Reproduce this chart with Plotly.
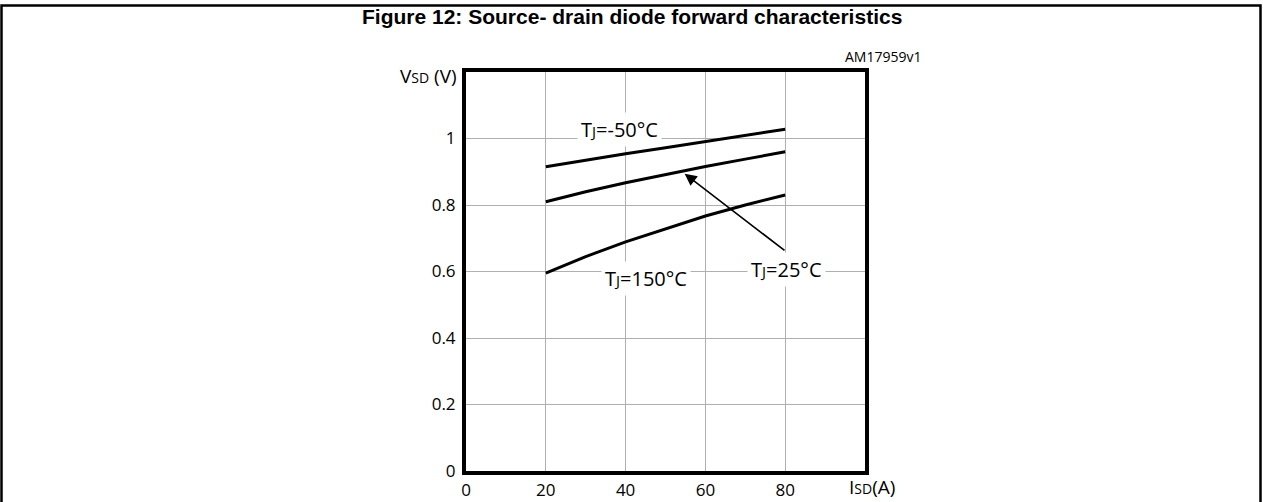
import plotly.graph_objects as go

# ---- data ----
ISD = [20, 30, 40, 50, 60, 70, 80]
VSD_m50 = [0.915, 0.935, 0.954, 0.972, 0.990, 1.010, 1.028]
VSD_25 = [0.810, 0.840, 0.867, 0.892, 0.916, 0.938, 0.960]
VSD_150 = [0.595, 0.645, 0.689, 0.728, 0.767, 0.800, 0.830]

x_ticks = [0, 20, 40, 60, 80]
y_ticks = [0, 0.2, 0.4, 0.6, 0.8, 1.0]
y_tick_text = ["0", "0.2", "0.4", "0.6", "0.8", "1"]

TITLE = "Figure 12: Source- drain diode forward characteristics"
CODE = "AM17959v1"

W, H = 1263, 502
L, R, T, B = 466, 865, 72, 471  # plot area in pixels
pw, ph = R - L, B - T

def px(xp):
    return (xp - L) / pw

def py(yp):
    return (B - yp) / ph

FONT = "Open Sans"
sm = "<span style='font-size:15px'>{}</span>"

fig = go.Figure()
for ys in (VSD_m50, VSD_25, VSD_150):
    fig.add_trace(go.Scatter(x=ISD, y=ys, mode="lines",
                             line=dict(color="black", width=3),
                             showlegend=False, hoverinfo="skip"))

ann = []
# curve labels with white boxes
for txt, x, y in [("T" + sm.format("J") + "=-50°C", 38.5, 1.027),
                  ("T" + sm.format("J") + "=150°C", 45.2, 0.58),
                  ("T" + sm.format("J") + "=25°C", 80.4, 0.605)]:
    ann.append(dict(x=x, y=y, xref="x", yref="y", text=txt, showarrow=False,
                    bgcolor="white", borderpad=3,
                    font=dict(family=FONT, size=20, color="black")))
# arrow
ann.append(dict(x=54.8, y=0.894, xref="x", yref="y", ax=80.2, ay=0.66,
                axref="x", ayref="y", text="", showarrow=True,
                arrowhead=2, arrowsize=1.5, arrowwidth=1.6, arrowcolor="black"))
# axis titles
ann.append(dict(x=px(459), y=py(76), xref="paper", yref="paper",
                text="V" + "<span style='font-size:14px'>SD</span> (V)",
                showarrow=False, xanchor="right", yanchor="middle",
                font=dict(family=FONT, size=19, color="black")))
ann.append(dict(x=px(872), y=py(487), xref="paper", yref="paper",
                text="I" + "<span style='font-size:14px'>SD</span>(A)",
                showarrow=False, xanchor="center", yanchor="middle",
                font=dict(family=FONT, size=19, color="black")))
ann.append(dict(x=px(883), y=py(57), xref="paper", yref="paper",
                text=CODE, showarrow=False, xanchor="center", yanchor="middle",
                font=dict(family=FONT, size=14, color="black")))
# title
ann.append(dict(x=px(632), y=py(17), xref="paper", yref="paper",
                text="<b>" + TITLE + "</b>", showarrow=False,
                xanchor="center", yanchor="middle",
                font=dict(family="Liberation Sans", size=21, color="black")))

shapes = [dict(type="rect", xref="paper", yref="paper",
               x0=px(1.5), x1=px(1260.5), y0=py(560), y1=py(5.5),
               line=dict(color="black", width=2.5), fillcolor="rgba(0,0,0,0)",
               layer="below")]

fig.update_layout(
    width=W, height=H, autosize=False,
    margin=dict(l=L, r=W - R, t=T, b=H - B, pad=0, autoexpand=False),
    paper_bgcolor="white", plot_bgcolor="white",
    annotations=ann, shapes=shapes,
    font=dict(family=FONT, size=17, color="black"),
    xaxis=dict(range=[0, 100], tickvals=x_ticks, showgrid=True,
               gridcolor="#b0b0b0", gridwidth=1, zeroline=False,
               showline=True, linecolor="black", linewidth=4, mirror=True,
               ticks="", ticklabelstandoff=1, automargin=False,
               tickfont=dict(family=FONT, size=17, color="black")),
    yaxis=dict(range=[0, 1.2], tickvals=y_ticks, ticktext=y_tick_text,
               showgrid=True, gridcolor="#b0b0b0", gridwidth=1, zeroline=False,
               showline=True, linecolor="black", linewidth=4, mirror=True,
               ticks="", ticklabelstandoff=3, automargin=False,
               tickfont=dict(family=FONT, size=17, color="black")),
)

fig.write_html("out.html",
               config={"displayModeBar": False, "responsive": False},
               post_script="document.body.style.margin='0px';"
                           "document.body.style.overflow='hidden';")
